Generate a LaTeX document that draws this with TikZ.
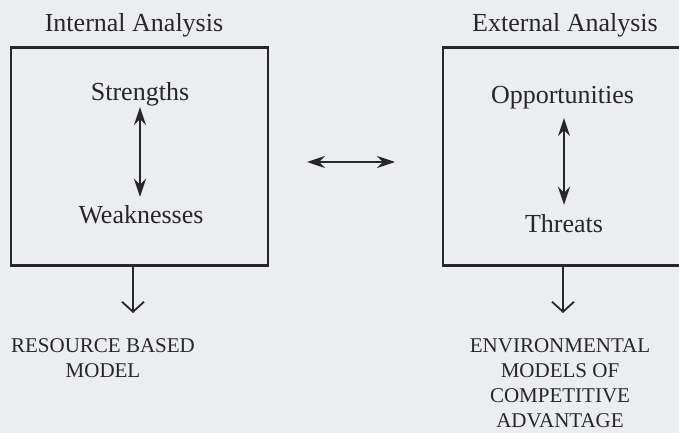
\documentclass[tikz,border=0pt]{standalone}
\usepackage{fontspec}
\setmainfont{Liberation Serif}
\usetikzlibrary{arrows.meta}
\definecolor{bg}{RGB}{236,237,238}
\definecolor{ink}{RGB}{38,38,44}
\begin{document}
\begin{tikzpicture}[x=1pt,y=-1pt,
  box/.style={draw=ink, line width=2.6pt, outer sep=0pt, inner sep=0pt},
  big/.style={text=ink, inner sep=0pt, anchor=base, font=\fontsize{26}{30}\selectfont},
  small/.style={text=ink, inner sep=0pt, anchor=north, align=center, font=\fontsize{21}{25}\selectfont},
  dbl/.style={draw=ink, line width=1.4pt, {Stealth[length=18pt,width=12pt,inset=6pt]}-{Stealth[length=18pt,width=12pt,inset=6pt]}},
  down/.style={draw=ink, line width=1.8pt, -{Straight Barb[length=10pt,width=22pt]}}]
\path[fill=bg] (0,0) rectangle (679,433);
\useasboundingbox (0,0) rectangle (679,433);
\clip (0,0) rectangle (679,433);
% boxes
\node[box, minimum width=257pt, minimum height=218pt] (lb) at (139.5,156.5) {};
\node[box, minimum width=245pt, minimum height=218pt] (rb) at (565.5,156.5) {};
% titles
\node[big] (ia) at (134,32) {Internal Analysis};
\node[big] (ea) at (565,32) {External Analysis};
% inner texts
\node[big] (st) at (140,100) {Strengths};
\node[big] (we) at (141,223) {Weaknesses};
\node[big] (op) at (562.5,103) {Opportunities};
\node[big] (th) at (564,232) {Threats};
% inner arrows
\draw[dbl, shorten <=1.3pt, shorten >=8pt] (st.south) -- (st.south |- we.north);
\draw[dbl, shorten <=9.4pt, shorten >=9pt] (op.south -| th.north) -- (th.north);
% middle arrow
\draw[dbl, shorten <=39pt, shorten >=48pt] ([yshift=-5.5pt]lb.east) -- ([yshift=-5.5pt]rb.west);
% outputs
\node[small] (res) at (103,338) {RESOURCE BASED\\MODEL};
\node[small] (env) at (560,338) {ENVIRONMENTAL\\MODELS OF\\COMPETITIVE\\ADVANTAGE};
\coordinate (lt) at (133,313);
\coordinate (rt) at (563,313);
\draw[down] (lb.south -| lt) -- (lt);
\draw[down] (rb.south -| rt) -- (rt);
\end{tikzpicture}
\end{document}
